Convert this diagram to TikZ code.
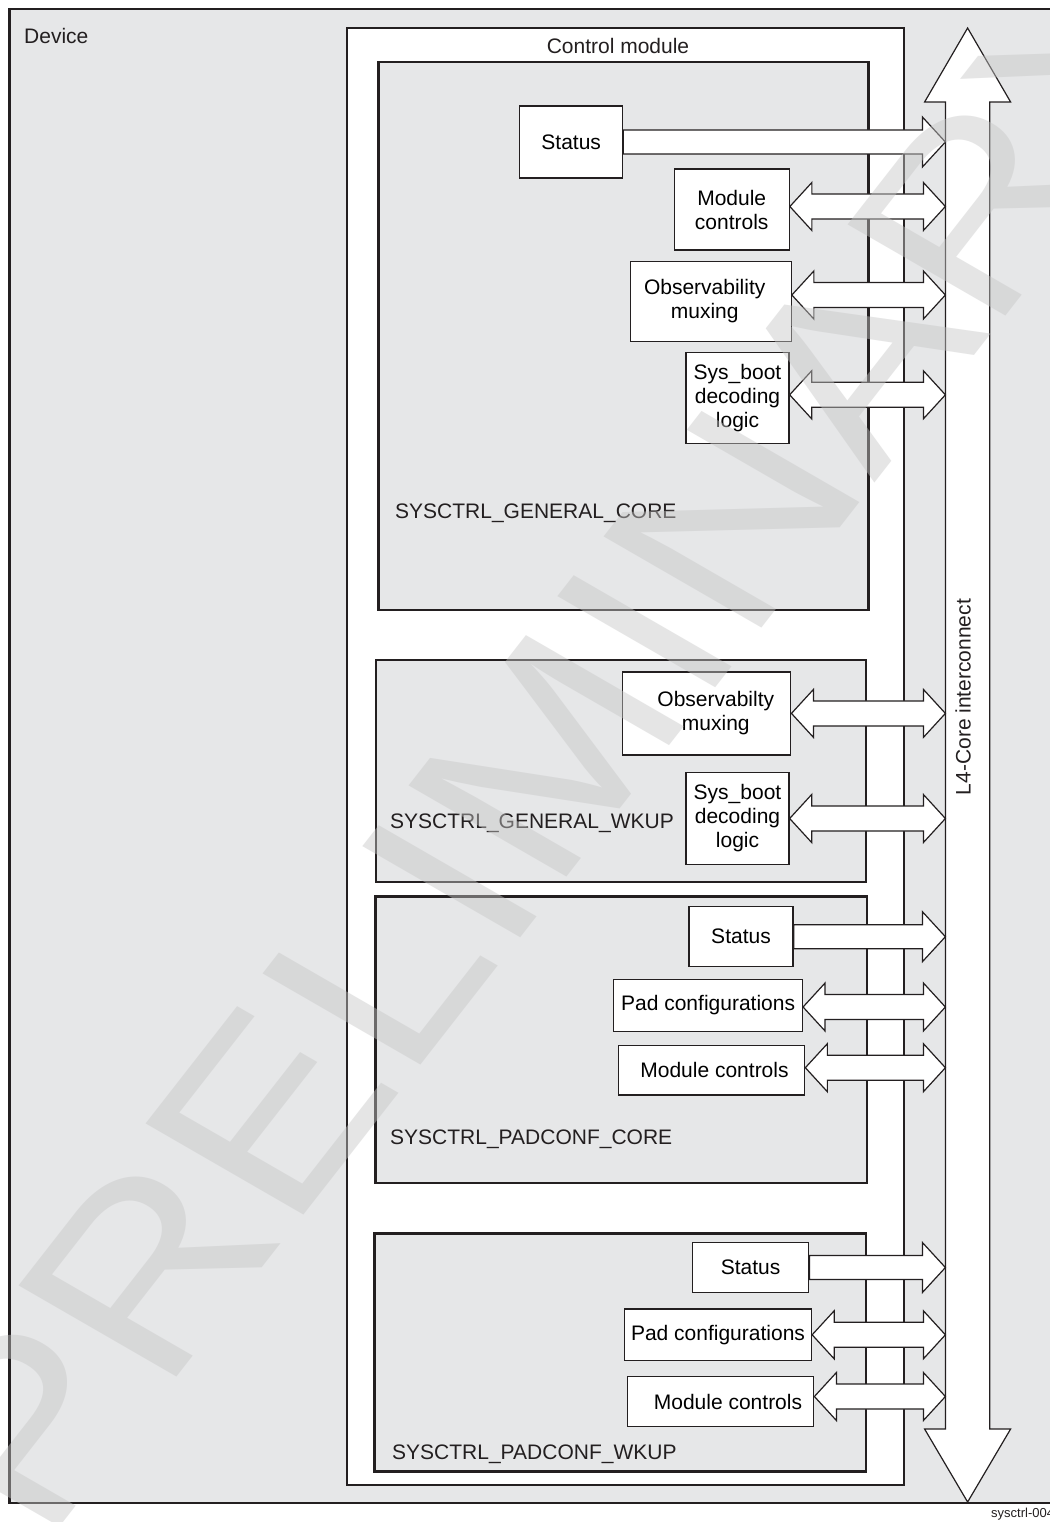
\documentclass[tikz,border=0pt]{standalone}
\usepackage{fontspec}
\setmainfont{Liberation Sans}
\usetikzlibrary{calc}

\definecolor{ink}{HTML}{231F20}
\definecolor{panel}{HTML}{E6E7E8}
\definecolor{stamp}{HTML}{C6C6C6}

\tikzset{
  region/.style={draw=ink, line width=2.5pt, fill=panel, inner sep=0pt},
  blk/.style={draw=ink, line width=1.3pt, fill=white, align=center, inner sep=0pt},
  lbl/.style={text=ink, inner sep=0pt, anchor=base west},
  blockarrow/.style={draw=ink, line width=1.2pt, fill=white, line join=miter},
  stampmark/.style={text=stamp, text opacity=0.45, inner sep=0pt,
    font=\fontsize{265}{265}\selectfont, transform shape}
}

% single block arrow from the east side of node #1 (shifted by #2) to the bus
\newcommand\busout[2]{%
  \draw[blockarrow] let \p1=([yshift=#2]#1.east), \p2=(bus) in
    (\x1,\y1+12pt) -- (\x2-23pt,\y1+12pt) -- (\x2-23pt,\y1+25pt) -- (\x2,\y1)
    -- (\x2-23pt,\y1-25pt) -- (\x2-23pt,\y1-12pt) -- (\x1,\y1-12pt) -- cycle;}

% double block arrow between node #1 (shifted by #2) and the bus
\newcommand\busduplex[2]{%
  \draw[blockarrow] let \p1=([yshift=#2]#1.east), \p2=(bus) in
    (\x1,\y1) -- (\x1+22pt,\y1+24pt) -- (\x1+22pt,\y1+12.5pt)
    -- (\x2-22pt,\y1+12.5pt) -- (\x2-22pt,\y1+24pt) -- (\x2,\y1)
    -- (\x2-22pt,\y1-24pt) -- (\x2-22pt,\y1-12.5pt)
    -- (\x1+22pt,\y1-12.5pt) -- (\x1+22pt,\y1-24pt) -- cycle;}

\begin{document}
\begin{tikzpicture}[x=1pt, y=-1pt, font=\fontsize{21}{24}\selectfont]
\useasboundingbox (0,0) rectangle (1049,1522);

% device and control module frames
\node[region, minimum width=1050.5pt, minimum height=1494pt] (device) at (534.75,756) {};
\node[lbl, anchor=west] (devlbl) at (24,36) {Device};
\node[region, fill=white, minimum width=557pt, minimum height=1457pt] (ctrl) at (625.5,756.5) {};
\node[text=ink] (ctrllbl) at (618,46) {Control module};

% register groups
\node[region, minimum width=490pt, minimum height=548pt] (gcore) at (623.5,336) {};
\node[region, minimum width=490pt, minimum height=222pt] (gwkup) at (621,771) {};
\node[region, minimum width=491.7pt, minimum height=286.3pt] (pcore) at (621.15,1039.85) {};
\node[region, minimum width=491.4pt, minimum height=238.4pt] (pwkup) at (620.1,1352.5) {};

\node[lbl] (gcorelbl) at (395,518.5) {SYSCTRL\_GENERAL\_CORE};
\node[lbl] (gwkuplbl) at (390,828.5) {SYSCTRL\_GENERAL\_WKUP};
\node[lbl] (pcorelbl) at (390,1144.5) {SYSCTRL\_PADCONF\_CORE};
\node[lbl] (pwkuplbl) at (392,1459.5) {SYSCTRL\_PADCONF\_WKUP};

% SYSCTRL_GENERAL_CORE blocks
\node[blk, minimum width=103pt, minimum height=72pt] (st1) at (571.2,142) {Status};
\node[blk, minimum width=115pt, minimum height=81pt] (mc1) at (731.7,209.5) {Module\\controls};
\node[blk, minimum width=161pt, minimum height=80pt] (ob1) at (710.7,301.5) {Observability\hspace*{12pt}\\muxing\hspace*{12pt}};
\node[blk, minimum width=103pt, minimum height=91pt] (sb1) at (737.5,397.8) {Sys\_boot\\decoding\\logic};

% SYSCTRL_GENERAL_WKUP blocks
\node[blk, minimum width=168pt, minimum height=83pt] (ob2) at (706.8,713.4) {\hspace*{18pt}Observabilty\\\hspace*{18pt}muxing};
\node[blk, minimum width=103pt, minimum height=92pt] (sb2) at (737.5,818.5) {Sys\_boot\\decoding\\logic};

% SYSCTRL_PADCONF_CORE blocks
\node[blk, minimum width=104pt, minimum height=60pt] (st3) at (741,936.7) {Status};
\node[blk, minimum width=188.6pt, minimum height=52.4pt] (pc3) at (708.1,1005.5) {Pad configurations};
\node[blk, minimum width=186.4pt, minimum height=49.7pt] (mc3) at (711.5,1070.2) {\hspace*{6pt}Module controls};

% SYSCTRL_PADCONF_WKUP blocks
\node[blk, minimum width=116.3pt, minimum height=49.6pt] (st4) at (750.6,1267.5) {Status};
\node[blk, minimum width=187pt, minimum height=51.7pt] (pc4) at (718,1334.8) {Pad configurations};
\node[blk, minimum width=186.5pt, minimum height=49.6pt] (mc4) at (720.5,1401.5) {\hspace*{15pt}Module controls};

% L4-Core interconnect bus
\draw[blockarrow] (967.6,28) -- (1010.6,102) -- (989.8,102) -- (989.8,1429)
  -- (1010.6,1429) -- (967.6,1502) -- (924.6,1429) -- (945.4,1429)
  -- (945.4,102) -- (924.6,102) -- cycle;
\coordinate (bus) at (945.4,0);
\node[text=ink, rotate=90] (l4) at (963,697) {L4-Core interconnect};

% links to the bus
\busout{st1}{0pt}
\busduplex{mc1}{3pt}
\busduplex{ob1}{6.5pt}
\busduplex{sb1}{3pt}
\busduplex{ob2}{0pt}
\busduplex{sb2}{0pt}
\busout{st3}{0pt}
\busduplex{pc3}{-1.5pt}
\busduplex{mc3}{2.5pt}
\busout{st4}{0pt}
\busduplex{pc4}{0pt}
\busduplex{mc4}{5pt}

% draft stamp, slanted across the sheet
\begin{scope}[shift={(560,740)}, cm={0.662,0.848,-0.866,0.5,(0,0)}]
  \node[stampmark] (stamp) at (0,0) {PRELIMINARY};
\end{scope}

% figure tag
\node[lbl, anchor=west, font=\fontsize{13}{15}\selectfont] (tag) at (991,1514) {sysctrl-004};
\end{tikzpicture}
\end{document}
